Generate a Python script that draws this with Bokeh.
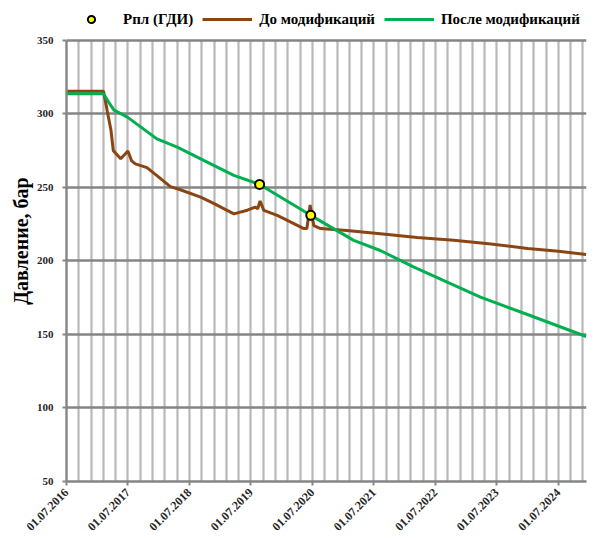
import math
import pandas as pd
from bokeh.plotting import figure
from bokeh.models import (Range1d, FixedTicker, DatetimeTickFormatter, Legend, LegendItem)
from bokeh.embed import file_html
from bokeh.resources import INLINE

# ---------------- data ----------------
before_dates = ["2016-07-01", "2017-02-06", "2017-02-28", "2017-03-22", "2017-04-05",
                "2017-05-19", "2017-07-01", "2017-07-23", "2017-08-14", "2017-10-22",
                "2017-12-31", "2018-03-10", "2018-05-08", "2018-09-06", "2018-11-25",
                "2019-03-22", "2019-06-10", "2019-07-27", "2019-08-11", "2019-08-25",
                "2019-09-16", "2019-12-05", "2020-02-03", "2020-05-11", "2020-05-29",
                "2020-06-17", "2020-07-09", "2020-08-18", "2021-01-22", "2021-08-08",
                "2022-03-15", "2022-10-19", "2023-05-27", "2024-01-01", "2024-07-01",
                "2024-12-13"]
before_vals = [315.3, 315.3, 302, 289, 275,
               269.5, 274.7, 268, 266, 263.4,
               257, 250.5, 248.4, 243.4, 239,
               232, 234.5, 236.6, 235.5, 240.7,
               234.4, 231, 227.6, 222, 222,
               238, 224, 222, 220.7, 218.5,
               216, 214, 211.5, 208.5, 206.5,
               204.4]

after_dates = ["2016-07-01", "2017-02-06", "2017-03-08", "2017-04-09", "2017-06-28",
               "2017-12-20", "2018-04-20", "2018-09-24", "2019-03-22", "2019-08-22",
               "2020-06-21", "2021-03-03", "2021-08-08", "2022-02-24", "2023-03-26",
               "2024-01-15", "2024-12-13"]
after_vals = [313.7, 313.7, 308, 302.5, 297.8,
              283, 277.4, 268.4, 258.2, 252,
              231, 214, 207.1, 195.8, 175.4,
              162.9, 148.6]

gdi_dates = ["2019-08-22", "2020-06-21"]
gdi_vals = [252, 231]

x_tick_dates = ["2016-07-01", "2017-07-01", "2018-07-01", "2019-07-01", "2020-07-01",
                "2021-07-01", "2022-07-01", "2023-07-01", "2024-07-01"]
y_ticks = [50, 100, 150, 200, 250, 300, 350]

series_names = ["Рпл (ГДИ)", "До модификаций", "После модификаций"]

# ---------------- figure ----------------
def to_ms(dates):
    return [pd.Timestamp(d).value // 10**6 for d in dates]

x_start = pd.Timestamp("2016-07-01")
x_end = pd.Timestamp("2024-12-15")

W, H = 594, 537
LEFT, RIGHT, TOP, BOTTOM = 66, 8, 0, 54
frame_h = H - TOP - BOTTOM          # 483 px
px_per_unit = (483 - 40) / 300.0     # 350 sits 40 px below the top
y_top = 350 + (40 - TOP) / px_per_unit  # room for the legend inside the frame

p = figure(width=W, height=H, x_axis_type="datetime",
           output_backend="svg", toolbar_location=None,
           x_range=Range1d(x_start, x_end), y_range=Range1d(50, y_top),
           min_border_left=LEFT, min_border_right=RIGHT, min_border_top=TOP,
           min_border_bottom=BOTTOM)
p.outline_line_color = None
p.background_fill_color = "white"
p.border_fill_color = "white"

FONT = "Liberation Serif"

# grid
grid_ms = []
step_days = 365.25 / 5
for k in range(0, 60):
    t = x_start + pd.Timedelta(days=step_days * k)
    if t > x_end:
        break
    grid_ms.append(t.value // 10**6)
p.xgrid.ticker = FixedTicker(ticks=grid_ms)
p.xgrid.grid_line_color = "#b8b8b8"
p.xgrid.grid_line_width = 2.2
p.xgrid.cross_bounds = (50, 350)
p.ygrid.ticker = FixedTicker(ticks=y_ticks)
p.ygrid.grid_line_color = "#858585"
p.ygrid.grid_line_width = 2.4

# axes
p.xaxis.ticker = FixedTicker(ticks=to_ms(x_tick_dates))
fmt = "%d.%m.%Y"
p.xaxis.formatter = DatetimeTickFormatter(milliseconds=fmt, seconds=fmt, minsec=fmt,
                                          minutes=fmt, hourmin=fmt, hours=fmt,
                                          days=fmt, months=fmt, years=fmt)
p.xaxis.major_label_orientation = math.pi / 4
p.yaxis.ticker = FixedTicker(ticks=y_ticks)
p.yaxis.bounds = (50, 350)
for ax in (p.xaxis, p.yaxis):
    ax.axis_line_color = "#858585"
    ax.axis_line_width = 2.4
    ax.major_tick_line_color = "#858585"
    ax.major_tick_line_width = 2
    ax.major_tick_out = 4
    ax.major_tick_in = 0
    ax.minor_tick_line_color = None
    ax.major_label_text_font = FONT
    ax.major_label_text_font_style = "bold"
    ax.major_label_text_color = "#262626"
p.xaxis.major_label_text_font_size = "12px"
p.yaxis.major_label_text_font_size = "11px"
p.xaxis.major_label_standoff = 5
p.yaxis.major_label_standoff = 9
p.yaxis.axis_label = "Давление, бар"
p.yaxis.axis_label_text_font = FONT
p.yaxis.axis_label_text_font_style = "bold"
p.yaxis.axis_label_text_font_size = "20px"
p.yaxis.axis_label_text_color = "black"
p.yaxis.axis_label_standoff = 2

# series
r_before = p.line(pd.to_datetime(before_dates), before_vals, line_color="#8b4513", line_width=3)
r_after = p.line(pd.to_datetime(after_dates), after_vals, line_color="#00b050", line_width=3)
r_gdi = p.scatter(pd.to_datetime(gdi_dates), gdi_vals, size=9, fill_color="#ffff00",
                  line_color="black", line_width=2)

legend = Legend(items=[LegendItem(label=series_names[0], renderers=[r_gdi]),
                       LegendItem(label=series_names[1], renderers=[r_before]),
                       LegendItem(label=series_names[2], renderers=[r_after])],
                orientation="horizontal", location=(0, frame_h - 21 - 9))
legend.label_text_font = FONT
legend.label_text_font_style = "bold"
legend.label_text_font_size = "15px"
legend.label_text_color = "black"
legend.border_line_color = None
legend.background_fill_alpha = 0
legend.glyph_width = 50
legend.glyph_height = 18
legend.label_height = 18
legend.spacing = 9
legend.padding = 0
legend.margin = 0
legend.label_standoff = 7
p.add_layout(legend, "center")

open("out.html", "w").write(file_html(p, INLINE))
